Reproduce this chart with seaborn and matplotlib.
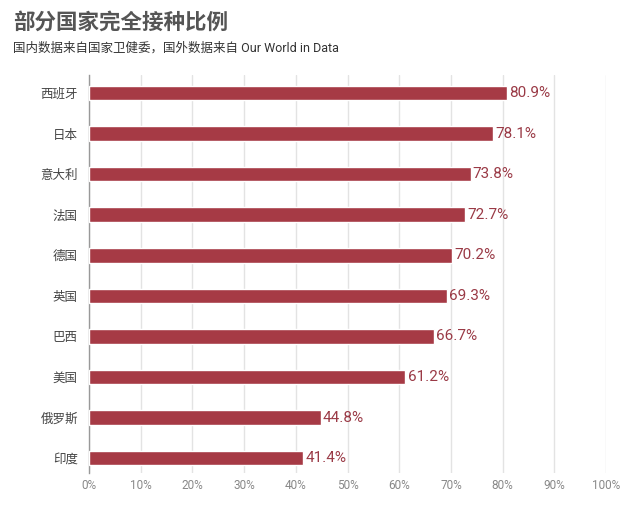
import matplotlib
matplotlib.use("Agg")
import matplotlib.pyplot as plt
import seaborn as sns
import pandas as pd

countries = ['西班牙', '日本', '意大利', '法国', '德国', '英国', '巴西', '美国', '俄罗斯', '印度']
rates = [80.9, 78.1, 73.8, 72.7, 70.2, 69.3, 66.7, 61.2, 44.8, 41.4]
xticks = [0, 10, 20, 30, 40, 50, 60, 70, 80, 90, 100]

bar_color = '#a63a45'

sns.set_style('white')
plt.rcParams['font.family'] = ['Roboto', 'Noto Sans CJK SC', 'DejaVu Sans']

df = pd.DataFrame({'country': countries, 'rate': rates})

fig = plt.figure(figsize=(6.4, 5.12), dpi=100)
ax = fig.add_axes([0.139, 0.076, 0.808, 0.778])

sns.barplot(data=df, x='rate', y='country', color=bar_color, saturation=1,
            width=0.36, ax=ax, zorder=3)

# value labels at bar ends
for i, v in enumerate(rates):
    ax.text(v + 0.4, i, f'{v}%', va='center', ha='left', fontsize=11,
            color='#9a3a46', zorder=4)

ax.set_xlim(0, 100)
ax.set_ylim(9.37, -0.45)
ax.set_xticks(xticks)
ax.set_xticklabels([f'{t}%' for t in xticks], color='#888888', fontsize=8.5)
ax.tick_params(axis='y', labelsize=9, colors='#444444', length=0, pad=8)
ax.tick_params(axis='x', length=0, pad=4)
ax.set_xlabel('')
ax.set_ylabel('')
ax.grid(axis='x', color='#e3e3e3', linewidth=1, zorder=0)
for s in ['top', 'right', 'bottom']:
    ax.spines[s].set_visible(False)
ax.spines['left'].set_color('#999999')
ax.spines['left'].set_linewidth(1)

fig.text(0.02, 0.955, '部分国家完全接种比例', fontsize=15.5, fontweight='bold',
         color='#555555', va='center')
fig.text(0.02, 0.906, '国内数据来自国家卫健委，国外数据来自 Our World in Data',
         fontsize=9, color='#333333', va='center')

fig.savefig('out.png', dpi=100)
